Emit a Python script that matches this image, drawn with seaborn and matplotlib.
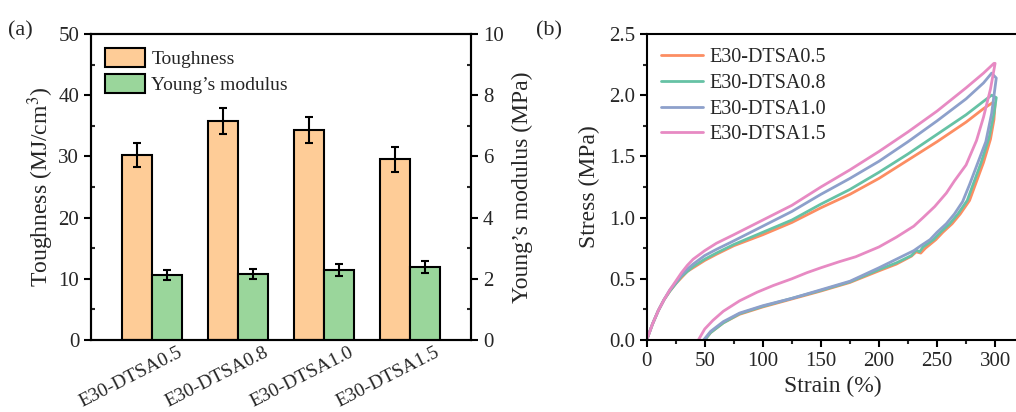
import numpy as np
import pandas as pd
import matplotlib
matplotlib.use("Agg")
import matplotlib.pyplot as plt
from matplotlib.patches import Patch
from matplotlib.ticker import MultipleLocator, FormatStrFormatter
import seaborn as sns

# ---------------- data: panel (a) ----------------
samples = ["E30-DTSA0.5", "E30-DTSA0.8", "E30-DTSA1.0", "E30-DTSA1.5"]
toughness = [30.2, 35.8, 34.3, 29.5]
toughness_err = [2.0, 2.1, 2.1, 2.1]
modulus = [2.12, 2.15, 2.28, 2.38]
modulus_err = [0.17, 0.17, 0.19, 0.2]

# ---------------- data: panel (b) ----------------
load_strain_05 = [0, 5, 10, 15, 20, 25, 30, 35, 40, 50, 60, 75, 100, 125, 150, 175, 200, 225, 250, 275, 290, 298]
load_stress_05 = [0, 0.13, 0.24, 0.33, 0.40, 0.46, 0.51, 0.56, 0.59, 0.65, 0.70, 0.77, 0.86, 0.96, 1.08, 1.19, 1.32, 1.47, 1.62, 1.78, 1.89, 1.94]
unload_strain_05 = [300, 299, 296, 290, 283, 278, 270, 263, 255, 249, 240, 236, 232, 228, 215, 200, 175, 150, 125, 100, 80, 66, 55, 50]
unload_stress_05 = [1.93, 1.80, 1.64, 1.45, 1.27, 1.14, 1.03, 0.95, 0.88, 0.82, 0.75, 0.71, 0.72, 0.685, 0.62, 0.565, 0.47, 0.40, 0.335, 0.27, 0.21, 0.14, 0.06, 0]

load_strain_08 = [0, 5, 10, 15, 20, 25, 30, 35, 40, 50, 60, 75, 100, 125, 150, 175, 200, 225, 250, 275, 290, 297]
load_stress_08 = [0, 0.13, 0.24, 0.33, 0.40, 0.46, 0.52, 0.56, 0.60, 0.66, 0.71, 0.78, 0.88, 0.98, 1.11, 1.23, 1.37, 1.52, 1.68, 1.84, 1.95, 2.00]
unload_strain_08 = [301, 299, 295, 288, 281, 276, 268, 261, 253, 247, 238, 235, 232, 228, 215, 200, 175, 150, 125, 100, 80, 66, 55, 50]
unload_stress_08 = [1.98, 1.85, 1.66, 1.45, 1.27, 1.14, 1.03, 0.95, 0.88, 0.82, 0.76, 0.72, 0.735, 0.69, 0.63, 0.575, 0.475, 0.405, 0.34, 0.275, 0.215, 0.14, 0.06, 0]

load_strain_10 = [0, 5, 10, 15, 20, 25, 30, 35, 40, 50, 60, 75, 100, 125, 150, 175, 200, 225, 250, 275, 290, 297]
load_stress_10 = [0, 0.13, 0.24, 0.33, 0.41, 0.47, 0.53, 0.58, 0.62, 0.69, 0.74, 0.81, 0.93, 1.05, 1.19, 1.32, 1.46, 1.62, 1.79, 1.97, 2.10, 2.18]
unload_strain_10 = [301, 297, 292, 284, 278, 272, 265, 258, 250, 244, 236, 230, 215, 200, 175, 150, 125, 100, 80, 66, 55, 49]
unload_stress_10 = [2.14, 1.85, 1.62, 1.42, 1.27, 1.13, 1.03, 0.95, 0.88, 0.82, 0.77, 0.73, 0.66, 0.59, 0.48, 0.41, 0.34, 0.28, 0.22, 0.15, 0.07, 0]

load_strain_15 = [0, 5, 10, 15, 20, 25, 30, 35, 40, 50, 60, 75, 100, 125, 150, 175, 200, 225, 250, 275, 290, 299]
load_stress_15 = [0, 0.13, 0.24, 0.33, 0.41, 0.48, 0.55, 0.61, 0.66, 0.73, 0.79, 0.86, 0.98, 1.10, 1.25, 1.39, 1.54, 1.70, 1.87, 2.06, 2.18, 2.26]
unload_strain_15 = [300, 296, 290, 284, 275, 265, 258, 248, 238, 230, 215, 200, 180, 166, 150, 138, 125, 109, 95, 80, 66, 57, 50, 44.5]
unload_stress_15 = [2.26, 2.05, 1.82, 1.63, 1.43, 1.30, 1.20, 1.09, 1.00, 0.93, 0.84, 0.76, 0.68, 0.64, 0.59, 0.55, 0.50, 0.445, 0.39, 0.32, 0.235, 0.16, 0.09, 0]

curve_labels = ["E30-DTSA0.5", "E30-DTSA0.8", "E30-DTSA1.0", "E30-DTSA1.5"]
curve_colors = ["#fc8d62", "#66c2a5", "#8da0cb", "#e78ac3"]
bar_colors = ["#FECC97", "#9AD69B"]

# ---------------- style ----------------
sns.set_theme(style="ticks")
plt.rcParams["font.family"] = ["Liberation Serif", "DejaVu Serif"]
plt.rcParams["mathtext.fontset"] = "stix"
plt.rcParams["axes.linewidth"] = 1.5

fig = plt.figure(figsize=(10.16, 4.12), dpi=100)

# ---------------- panel (a) ----------------
ax1 = fig.add_axes([0.0896, 0.1748, 0.374, 0.7427])
ax2 = ax1.twinx()

props = ["Toughness", "Young\u2019s modulus"]
df_t = pd.DataFrame({"sample": samples, "value": toughness, "prop": props[0]})
df_m = pd.DataFrame({"sample": samples, "value": modulus, "prop": props[1]})

sns.barplot(data=df_t, x="sample", y="value", hue="prop", hue_order=props,
            palette=bar_colors, order=samples, width=0.7, dodge=True, saturation=1,
            edgecolor="black", linewidth=1.5, errorbar=None, legend=False, ax=ax1)
sns.barplot(data=df_m, x="sample", y="value", hue="prop", hue_order=props,
            palette=bar_colors, order=samples, width=0.7, dodge=True, saturation=1,
            edgecolor="black", linewidth=1.5, errorbar=None, legend=False, ax=ax2)

bars1 = [p for p in ax1.patches if p.get_height() > 0]
bars2 = [p for p in ax2.patches if p.get_height() > 0]
c1 = [p.get_x() + p.get_width() / 2 for p in bars1]
c2 = [p.get_x() + p.get_width() / 2 for p in bars2]
ax1.errorbar(c1, toughness, yerr=toughness_err, fmt="none", ecolor="black",
             elinewidth=1.5, capsize=3, capthick=1.5)
ax2.errorbar(c2, modulus, yerr=modulus_err, fmt="none", ecolor="black",
             elinewidth=1.5, capsize=3, capthick=1.5)

ax1.set_ylim(0, 50)
ax2.set_ylim(0, 10)
ax1.yaxis.set_major_locator(MultipleLocator(10))
ax1.yaxis.set_minor_locator(MultipleLocator(5))
ax2.yaxis.set_major_locator(MultipleLocator(2))
ax2.yaxis.set_minor_locator(MultipleLocator(1))
ax1.set_xlabel("")
ax2.set_xlabel("")
ax1.set_ylabel("Toughness (MJ/cm$^3$)", fontsize=17, labelpad=2)
ax2.set_ylabel("Young\u2019s modulus (MPa)", fontsize=17, labelpad=6)
for ax in (ax1, ax2):
    ax.tick_params(axis="both", which="major", direction="out", length=5, width=1.5,
                   labelsize=15, color="black")
    ax.tick_params(axis="y", which="minor", direction="in", length=3, width=1.5)
    for s in ax.spines.values():
        s.set_visible(True)
        s.set_linewidth(1.5)
        s.set_color("black")
ax1.set_xticks(range(len(samples)))
ax1.set_xticklabels([])
ax2.set_xticklabels([])
ax1.tick_params(axis="x", length=0)
ax1.set_xlim(-0.71, 3.71)
# rotated category labels, ending to the right of each group centre
for i, name in enumerate(samples):
    ax1.annotate(name, xy=(i, 0), xycoords=("data", "axes fraction"),
                 xytext=(18, -3), textcoords="offset points", rotation=27,
                 ha="right", va="top", rotation_mode="anchor", fontsize=14,
                 annotation_clip=False)

handles = [Patch(facecolor=bar_colors[0], edgecolor="black", linewidth=1.5, label=props[0]),
           Patch(facecolor=bar_colors[1], edgecolor="black", linewidth=1.5, label=props[1])]
ax2.legend(handles=handles, loc="upper left", bbox_to_anchor=(0.0, 1.0), frameon=False,
           fontsize=14, handlelength=2.1, handleheight=1.15, handletextpad=0.3,
           labelspacing=0.3, borderaxespad=0.3)

fig.text(0.008, 0.925, "(a)", fontsize=16, ha="left", va="center")

# ---------------- panel (b) ----------------
ax3 = fig.add_axes([0.6365, 0.1748, 0.3658, 0.7427])
loads = [(load_strain_05, load_stress_05, unload_strain_05, unload_stress_05),
         (load_strain_08, load_stress_08, unload_strain_08, unload_stress_08),
         (load_strain_10, load_stress_10, unload_strain_10, unload_stress_10),
         (load_strain_15, load_stress_15, unload_strain_15, unload_stress_15)]
frames = []
for lab, (ls, lv, us, uv) in zip(curve_labels, loads):
    frames.append(pd.DataFrame({"strain": list(ls) + list(us),
                                "stress": list(lv) + list(uv),
                                "sample": lab}))
df_c = pd.concat(frames, ignore_index=True)
sns.lineplot(data=df_c, x="strain", y="stress", hue="sample", hue_order=curve_labels,
             palette=curve_colors, sort=False, estimator=None, linewidth=2.0, ax=ax3)

ax3.set_xlim(0, 320)
ax3.set_ylim(0, 2.5)
ax3.xaxis.set_major_locator(MultipleLocator(50))
ax3.xaxis.set_minor_locator(MultipleLocator(25))
ax3.yaxis.set_major_locator(MultipleLocator(0.5))
ax3.yaxis.set_minor_locator(MultipleLocator(0.25))
ax3.yaxis.set_major_formatter(FormatStrFormatter("%.1f"))
ax3.set_xlabel("Strain (%)", fontsize=17, labelpad=4)
ax3.set_ylabel("Stress (MPa)", fontsize=17, labelpad=6)
ax3.tick_params(axis="both", which="major", direction="out", length=5, width=1.5,
                labelsize=15, color="black")
ax3.tick_params(axis="both", which="minor", direction="out", length=3, width=1.5)
for s in ax3.spines.values():
    s.set_visible(True)
    s.set_linewidth(1.5)
    s.set_color("black")
h, l = ax3.get_legend_handles_labels()
ax3.legend(h, l, loc="upper left", bbox_to_anchor=(0.0, 1.0), frameon=False, fontsize=14.5,
           handlelength=2.1, handletextpad=0.3, labelspacing=0.33, borderaxespad=0.3)

fig.text(0.528, 0.925, "(b)", fontsize=16, ha="left", va="center")

fig.savefig("out.png", dpi=100)
